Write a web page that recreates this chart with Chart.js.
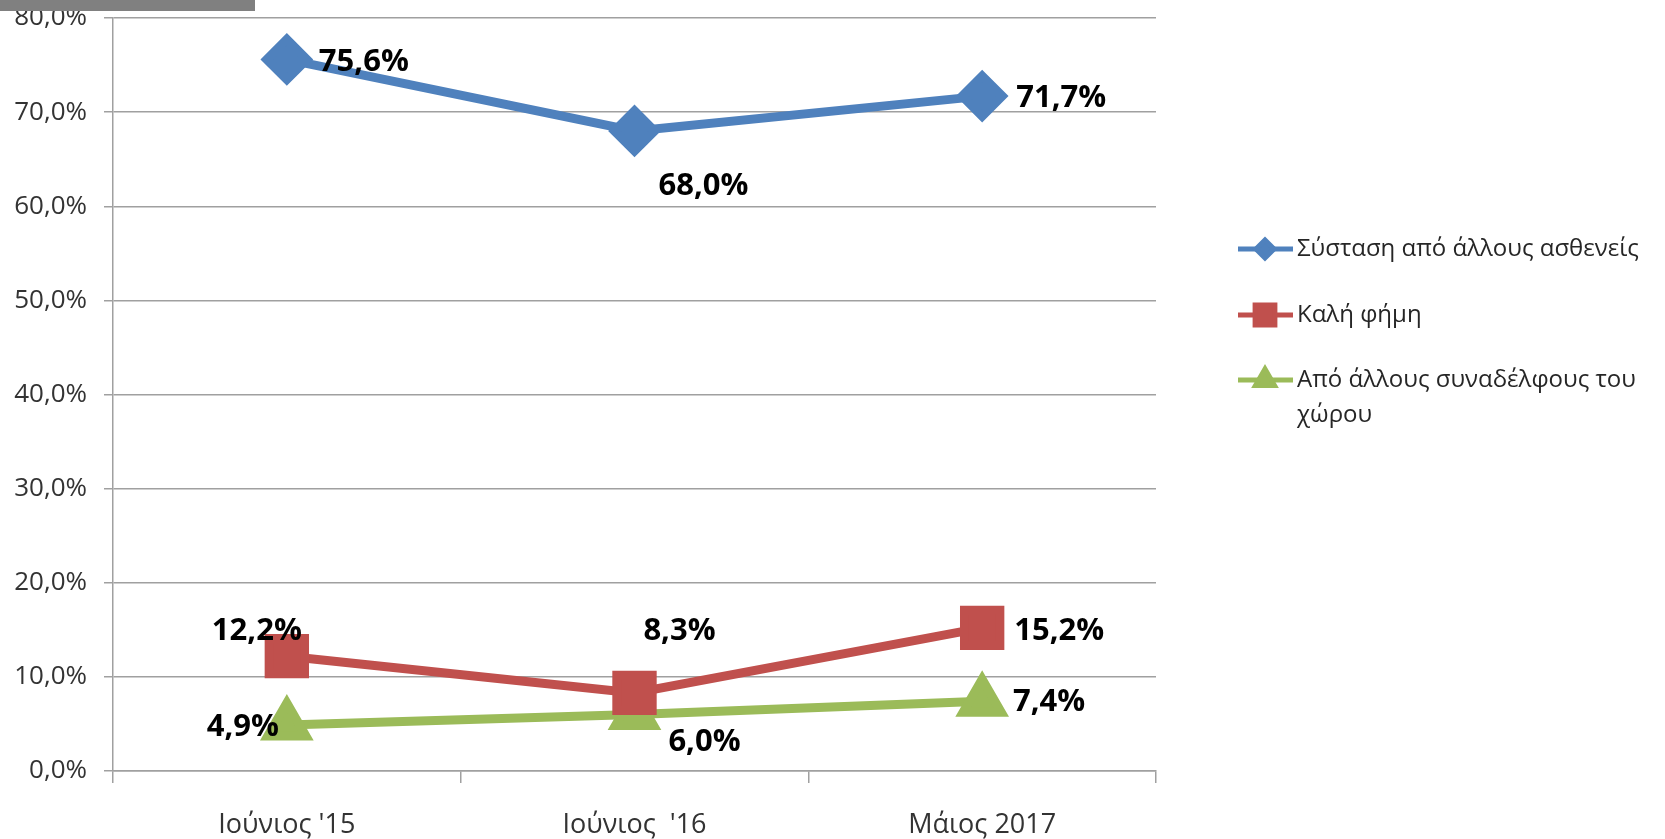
<!DOCTYPE html>
<html lang="el">
<head>
    <meta charset="UTF-8">
    <title>Σύσταση / Καλή φήμη</title>
    <script src="https://cdn.jsdelivr.net/npm/chart.js"></script>
    <style>
        body { margin: 0; background: #fff; }
        #wrap { position: relative; width: 1665px; height: 839px; }
        #topBar { position: absolute; left: 0; top: 0; width: 255px; height: 11px; background: #808080; }
    </style>
</head>

<body>
    <div id="wrap">
        <canvas id="trendChart" width="1665" height="839"></canvas>
        <div id="topBar"></div>
    </div>

    <script>
        // Data
        const periods = ['Ιούνιος \'15', 'Ιούνιος  \'16', 'Μάιος 2017'];
        const referralValues = [75.6, 68.0, 71.7];
        const reputationValues = [12.2, 8.3, 15.2];
        const colleagueValues = [4.9, 6.0, 7.4];
        const seriesNames = ['Σύσταση από άλλους ασθενείς', 'Καλή φήμη', 'Από άλλους συναδέλφους του χώρου'];
        const yTicks = [0, 10, 20, 30, 40, 50, 60, 70, 80];

        // Where each value label sits relative to its point (px)
        const labelOffsets = [
            [[77, 3], [69, 55], [79, 2]],
            [[-30, -25], [45, -62], [77, 3]],
            [[-44, 2], [70, 28], [67, 1]]
        ];

        const fontFamily = '"Open Sans", "Noto Sans", sans-serif';
        const pct = v => v.toFixed(1).replace('.', ',') + '%';

        // Value labels next to each point
        const valueLabels = {
            id: 'valueLabels',
            afterDatasetsDraw(chart) {
                const ctx = chart.ctx;
                ctx.save();
                ctx.font = 'bold 31px ' + fontFamily;
                ctx.fillStyle = '#000';
                ctx.textAlign = 'center';
                ctx.textBaseline = 'middle';
                chart.data.datasets.forEach((ds, i) => {
                    chart.getDatasetMeta(i).data.forEach((pt, j) => {
                        const off = labelOffsets[i][j];
                        ctx.fillText(pct(ds.data[j]), pt.x + off[0], pt.y + off[1]);
                    });
                });
                ctx.restore();
            }
        };

        // Legend on the right, drawn by hand (line + marker + wrapped text)
        const sideLegend = {
            id: 'sideLegend',
            afterDraw(chart) {
                const ctx = chart.ctx;
                const rows = [[seriesNames[0]], [seriesNames[1]], ['Από άλλους συναδέλφους του', 'χώρου']];
                const ys = [249, 315, 380];
                ctx.save();
                chart.data.datasets.forEach((ds, i) => {
                    const y = ys[i];
                    ctx.strokeStyle = ds.borderColor;
                    ctx.lineWidth = 5;
                    ctx.beginPath();
                    ctx.moveTo(1238, y);
                    ctx.lineTo(1293, y);
                    ctx.stroke();
                    ctx.fillStyle = ds.borderColor;
                    ctx.strokeStyle = ds.borderColor;
                    Chart.helpers.drawPoint(ctx, {
                        pointStyle: ds.pointStyle,
                        radius: ds.legendRadius,
                        rotation: 0,
                        borderWidth: 1
                    }, 1265, y);
                    ctx.fillStyle = '#262626';
                    ctx.font = '24px ' + fontFamily;
                    ctx.textAlign = 'left';
                    ctx.textBaseline = 'middle';
                    rows[i].forEach((t, k) => ctx.fillText(t, 1297, y + k * 35));
                });
                ctx.restore();
            }
        };

        const ctx = document.getElementById('trendChart').getContext('2d');
        new Chart(ctx, {
            type: 'line',
            data: {
                labels: periods,
                datasets: [{
                    label: seriesNames[0],
                    data: referralValues,
                    borderColor: '#4F81BD',
                    backgroundColor: '#4F81BD',
                    borderWidth: 9,
                    pointStyle: 'rectRot',
                    pointRadius: 20,
                    legendRadius: 9
                }, {
                    label: seriesNames[1],
                    data: reputationValues,
                    borderColor: '#C0504D',
                    backgroundColor: '#C0504D',
                    borderWidth: 9,
                    pointStyle: 'rect',
                    pointRadius: 25,
                    legendRadius: 14
                }, {
                    label: seriesNames[2],
                    data: colleagueValues,
                    borderColor: '#9BBB59',
                    backgroundColor: '#9BBB59',
                    borderWidth: 9,
                    pointStyle: 'triangle',
                    pointRadius: 22,
                    legendRadius: 11
                }]
            },
            options: {
                responsive: false,
                animation: false,
                layout: { autoPadding: false, padding: { top: 18, right: 509, left: 0, bottom: 0 } },
                elements: { line: { tension: 0 }, point: { borderWidth: 1, hoverRadius: 20 } },
                plugins: {
                    legend: { display: false },
                    tooltip: { enabled: false }
                },
                scales: {
                    x: {
                        offset: true,
                        grid: { offset: true, drawOnChartArea: false, drawTicks: true, tickLength: 12, color: '#a0a0a0', lineWidth: 1.5 },
                        border: { color: '#a0a0a0', width: 1.5 },
                        ticks: { font: { family: fontFamily, size: 27 }, color: '#333', padding: 26, maxRotation: 0 },
                        afterFit(scale) { scale.height = 68; }
                    },
                    y: {
                        min: 0,
                        max: 80,
                        afterBuildTicks(scale) { scale.ticks = yTicks.map(v => ({ value: v })); },
                        grid: { color: '#a0a0a0', lineWidth: 1.5, tickLength: 9 },
                        border: { color: '#a0a0a0', width: 1.5 },
                        ticks: { font: { family: fontFamily, size: 26 }, color: '#333', padding: 17, callback: v => pct(v) },
                        afterFit(scale) {
                            scale.width = 113;
                            scale.paddingTop = 0;
                            scale.paddingBottom = 0;
                        }
                    }
                }
            },
            plugins: [valueLabels, sideLegend]
        });
    </script>
</body>
</html>
